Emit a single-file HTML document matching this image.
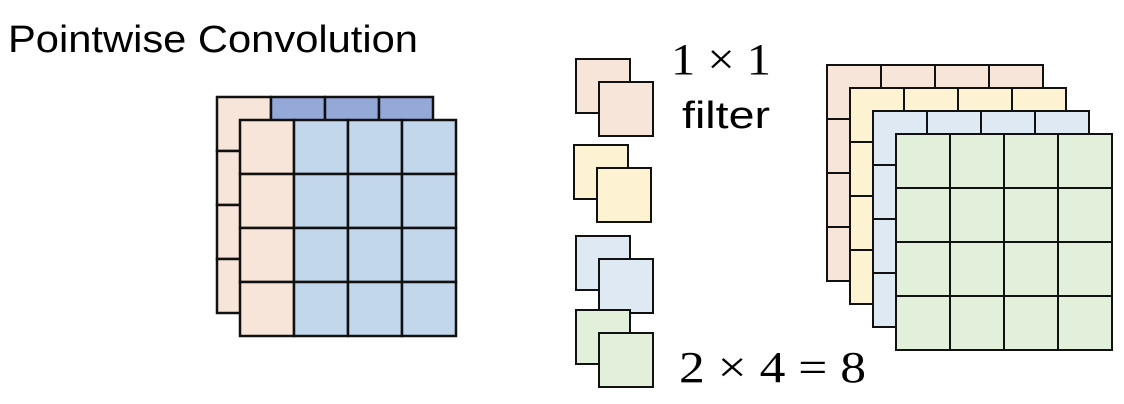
<!DOCTYPE html>
<html><head><meta charset="utf-8"><style>
html,body{margin:0;padding:0;background:#fff;width:1124px;height:404px;overflow:hidden}
svg{display:block}
</style></head><body>
<svg id="s" width="1124" height="404" viewBox="0 0 1124 404">
<text x="8" y="52" font-family="Liberation Sans, sans-serif" font-size="38" textLength="410" lengthAdjust="spacingAndGlyphs" fill="#000">Pointwise Convolution</text>
<g id="left"></g>
<g id="filters"></g>
<g id="right"></g>
<text x="671" y="74" font-family="Liberation Serif, serif" font-size="44" textLength="100" lengthAdjust="spacingAndGlyphs" fill="#000">1 × 1</text>
<text x="682" y="128" font-family="Liberation Sans, sans-serif" font-size="38" textLength="88" lengthAdjust="spacingAndGlyphs" fill="#000">filter</text>
<text x="679" y="382" font-family="Liberation Serif, serif" font-size="44" textLength="187" lengthAdjust="spacingAndGlyphs" fill="#000">2 × 4 = 8</text>
</svg>
<script>
const NS='http://www.w3.org/2000/svg';
function grid(g,x,y,cell,fills,name,sw){
  for(let r=0;r<4;r++)for(let c=0;c<4;c++){
    const e=document.createElementNS(NS,'rect');
    e.setAttribute('x',x+c*cell);e.setAttribute('y',y+r*cell);
    e.setAttribute('width',cell);e.setAttribute('height',cell);
    e.setAttribute('fill',fills(r,c));e.setAttribute('stroke','#111');e.setAttribute('stroke-width',sw||2);
    
    
    g.appendChild(e);
  }
}
const L=document.getElementById('left');
grid(L,217,97,54,(r,c)=>c==0?'#f8e5d9':'#94a9d8','input-back',2.5);
grid(L,240,120,54,(r,c)=>c==0?'#f8e5d9':'#c3d7ec','input-front',2.5);
const R=document.getElementById('right');
const cols=['#f8e5d9','#fdf2d2','#dfe9f4','#e2efda'];
for(let i=0;i<4;i++)grid(R,827+i*23,65+i*23,54,()=>cols[i],'output-layer-'+(i+1),2);
const F=document.getElementById('filters');
const fy=[59,145,236,310];
const fx=[576,574,576,576];
for(let i=0;i<4;i++){
  for(let k=0;k<2;k++){
    const e=document.createElementNS(NS,'rect');
    e.setAttribute('x',fx[i]+k*23);e.setAttribute('y',fy[i]+k*23);
    e.setAttribute('width',54);e.setAttribute('height',54);
    e.setAttribute('fill',cols[i]);e.setAttribute('stroke','#111');e.setAttribute('stroke-width',2);
    
    
    F.appendChild(e);
  }
}
</script>
</body></html>
